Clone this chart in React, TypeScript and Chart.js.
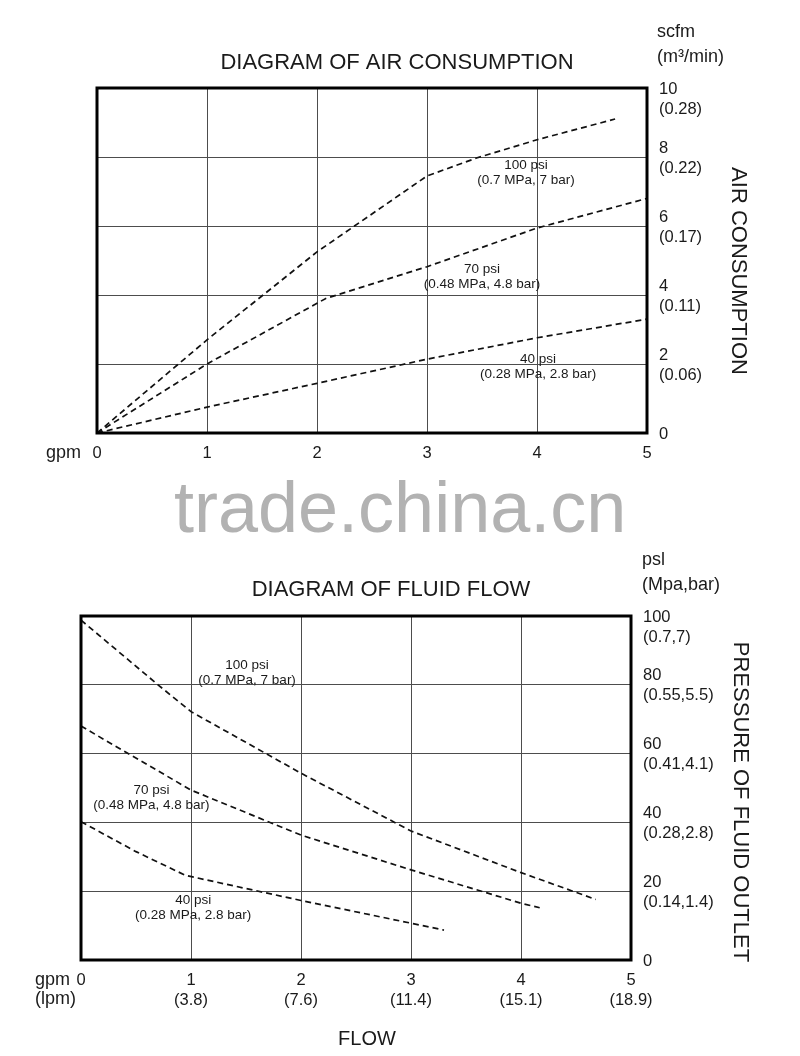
import React, { useEffect, useRef } from "react";
import { Chart, registerables } from "chart.js";

Chart.register(...registerables);

const REG = "'Liberation Sans', Arial, Helvetica, sans-serif";
const NARROW_FAMILY = "'Liberation Sans Narrow'";
const INK = "#1a1a1a";

function hasNarrow(): boolean {
  try {
    const c = document.createElement("canvas").getContext("2d");
    if (!c) return false;
    c.font = "40px monospace";
    const a = c.measureText("DIAGRAM abcdefghij 0123").width;
    c.font = `40px ${NARROW_FAMILY}, monospace`;
    const b = c.measureText("DIAGRAM abcdefghij 0123").width;
    return Math.abs(a - b) > 1;
  } catch {
    return false;
  }
}
const NARROW = hasNarrow();
const CF = NARROW ? `${NARROW_FAMILY}, ${REG}` : REG;
const CS = NARROW ? 1.2 : 1;

// ---------- Diagram of air consumption ----------
const airX100 = [0, 1, 2, 3, 3.45, 4, 4.71];
const airY100 = [0, 2.7, 5.25, 7.45, 7.97, 8.5, 9.1];
const airX70 = [0, 1, 2.08, 3, 4, 5];
const airY70 = [0, 2.0, 3.9, 4.82, 5.94, 6.8];
const airX40 = [0, 1, 2, 3, 4, 5];
const airY40 = [0, 0.75, 1.44, 2.14, 2.76, 3.3];
const airXTicks = ["0", "1", "2", "3", "4", "5"];
const airYScfm = ["0", "2", "4", "6", "8", "10"];
const airYM3 = ["", "(0.06)", "(0.11)", "(0.17)", "(0.22)", "(0.28)"];
const airCurveNames = [
  ["100 psi", "(0.7 MPa, 7 bar)"],
  ["70 psi", "(0.48 MPa, 4.8 bar)"],
  ["40 psi", "(0.28 MPa, 2.8 bar)"],
];
const airNameAtX = [3.9, 3.5, 4.01];
const airNameAtY = [7.55, 4.54, 1.91];
const airTitle = "DIAGRAM OF AIR CONSUMPTION";
const airUnits = ["scfm", "(m³/min)"];
const airAxisTitle = "AIR CONSUMPTION";

// ---------- Diagram of fluid flow ----------
const flowX100 = [0, 0.7, 1, 2, 3, 4, 4.68];
const flowY100 = [98.8, 80, 72.2, 54.3, 37.5, 25.4, 17.6];
const flowX70 = [0, 1, 2, 3, 4, 4.17];
const flowY70 = [68, 49.4, 36.3, 26.2, 16.5, 15.2];
const flowX40 = [0, 0.5, 0.95, 2, 3, 3.3];
const flowY40 = [40.2, 31.5, 24.6, 17.3, 10.7, 8.7];
const flowXGpm = ["0", "1", "2", "3", "4", "5"];
const flowXLpm = ["", "(3.8)", "(7.6)", "(11.4)", "(15.1)", "(18.9)"];
const flowYPsi = ["0", "20", "40", "60", "80", "100"];
const flowYMpaBar = ["", "(0.14,1.4)", "(0.28,2.8)", "(0.41,4.1)", "(0.55,5.5)", "(0.7,7)"];
const flowCurveNames = [
  ["100 psi", "(0.7 MPa, 7 bar)"],
  ["70 psi", "(0.48 MPa, 4.8 bar)"],
  ["40 psi", "(0.28 MPa, 2.8 bar)"],
];
const flowNameAtX = [1.51, 0.64, 1.02];
const flowNameAtY = [83.4, 47.1, 15.1];
const flowTitle = "DIAGRAM OF FLUID FLOW";
const flowUnits = ["psl", "(Mpa,bar)"];
const flowAxisTitle = "PRESSURE OF FLUID OUTLET";
const flowXTitle = "FLOW";

const watermark = "trade.china.cn";

type TextItem = {
  text: string;
  x: number;
  y: number;
  size: number;
  align: CanvasTextAlign;
  rotate?: boolean;
  regular?: boolean;
};

function toPoints(xs: number[], ys: number[]) {
  return xs.map((x, i) => ({ x, y: ys[i] }));
}

function curve(xs: number[], ys: number[]) {
  return {
    data: toPoints(xs, ys),
    borderColor: "#111",
    borderWidth: 1.7,
    borderDash: [6, 4],
    pointRadius: 0,
    fill: false,
    tension: 0,
  };
}

function yLabel(top: string[], bottom: string[], i: number) {
  if (!bottom[i]) return top[i];
  if (i === top.length - 1) return ["", top[i], bottom[i]];
  return [top[i], bottom[i]];
}

function makeDeco(texts: TextItem[], names: string[][], nx: number[], ny: number[]) {
  return {
    id: "deco",
    afterDraw(chart: any) {
      const { ctx, chartArea } = chart;
      const xs = chart.scales.x;
      const ys = chart.scales.y;
      ctx.save();
      ctx.strokeStyle = "#000";
      ctx.lineWidth = 3;
      ctx.strokeRect(
        chartArea.left,
        chartArea.top,
        chartArea.right - chartArea.left,
        chartArea.bottom - chartArea.top
      );
      ctx.fillStyle = INK;
      ctx.textBaseline = "middle";
      ctx.font = `${13.5 * CS}px ${CF}`;
      ctx.textAlign = "center";
      names.forEach((lines, i) => {
        const px = xs.getPixelForValue(nx[i]);
        const py = ys.getPixelForValue(ny[i]);
        ctx.fillText(lines[0], px, py - 7.5);
        ctx.fillText(lines[1], px, py + 7.5);
      });
      texts.forEach((t) => {
        ctx.font = t.regular ? `${t.size}px ${REG}` : `${t.size * CS}px ${CF}`;
        ctx.textAlign = t.align;
        if (t.rotate) {
          ctx.save();
          ctx.translate(t.x, t.y);
          ctx.rotate(Math.PI / 2);
          ctx.fillText(t.text, 0, 0);
          ctx.restore();
        } else {
          ctx.fillText(t.text, t.x, t.y);
        }
      });
      ctx.restore();
    },
  };
}

function buildConfig(opts: {
  datasets: any[];
  xLabels: (string | string[])[];
  yLabel: (i: number) => string | string[];
  yMax: number;
  yStep: number;
  padLeft: number;
  padTop: number;
  axisWidth: number;
  axisHeight: number;
  deco: any;
}) {
  const tickFont = { family: CF, size: 16.5 * CS, lineHeight: "20px" };
  return {
    type: "line",
    data: { datasets: opts.datasets },
    plugins: [opts.deco],
    options: {
      animation: false,
      responsive: false,
      maintainAspectRatio: false,
      events: [],
      layout: { padding: { left: opts.padLeft, top: opts.padTop, right: 0, bottom: 0 } },
      plugins: { legend: { display: false }, tooltip: { enabled: false }, title: { display: false } },
      scales: {
        x: {
          type: "linear",
          min: 0,
          max: 5,
          border: { display: false },
          grid: { color: "#4d4d4d", lineWidth: 1, drawTicks: false },
          ticks: {
            stepSize: 1,
            padding: 10,
            color: INK,
            font: tickFont,
            maxRotation: 0,
            autoSkip: false,
            callback: (_v: any, i: number) => opts.xLabels[i],
          },
          afterFit: (s: any) => {
            s.height = opts.axisHeight;
          },
        },
        y: {
          type: "linear",
          position: "right",
          min: 0,
          max: opts.yMax,
          border: { display: false },
          grid: { color: "#4d4d4d", lineWidth: 1, drawTicks: false },
          ticks: {
            stepSize: opts.yStep,
            padding: 12,
            labelOffset: 1,
            color: INK,
            font: tickFont,
            autoSkip: false,
            callback: (_v: any, i: number) => opts.yLabel(i),
          },
          afterFit: (s: any) => {
            s.width = opts.axisWidth;
          },
        },
      },
    },
  };
}

function ChartCanvas({ top, width, height, config }: { top: number; width: number; height: number; config: any }) {
  const ref = useRef<HTMLCanvasElement>(null);
  useEffect(() => {
    if (!ref.current) return;
    const chart = new Chart(ref.current, config);
    return () => chart.destroy();
  }, []);
  return (
    <canvas
      ref={ref}
      width={width}
      height={height}
      style={{ position: "absolute", left: 0, top, width, height }}
    />
  );
}

const airTop = 0;
const airH = 480;
const flowTop = 530;
const flowH = 526;

const airConfig = buildConfig({
  datasets: [curve(airX100, airY100), curve(airX70, airY70), curve(airX40, airY40)],
  xLabels: airXTicks,
  yLabel: (i) => yLabel(airYScfm, airYM3, i),
  yMax: 10,
  yStep: 2,
  padLeft: 97,
  padTop: 88,
  axisWidth: 800 - 647,
  axisHeight: airH - 433,
  deco: makeDeco(
    [
      { text: airTitle, x: 397, y: 63, size: 22, align: "center" },
      { text: airUnits[0], x: 657, y: 32, size: 18, align: "left" },
      { text: airUnits[1], x: 657, y: 57, size: 18, align: "left" },
      { text: airAxisTitle, x: 738, y: 271, size: 22, align: "center", rotate: true, regular: true },
      { text: "gpm", x: 46, y: 453, size: 18, align: "left" },
    ],
    airCurveNames,
    airNameAtX,
    airNameAtY
  ),
});

const flowConfig = buildConfig({
  datasets: [curve(flowX100, flowY100), curve(flowX70, flowY70), curve(flowX40, flowY40)],
  xLabels: flowXGpm.map((g, i) => (flowXLpm[i] ? [g, flowXLpm[i]] : g)),
  yLabel: (i) => yLabel(flowYPsi, flowYMpaBar, i),
  yMax: 100,
  yStep: 20,
  padLeft: 81,
  padTop: 616 - flowTop,
  axisWidth: 800 - 631,
  axisHeight: flowH - (960 - flowTop),
  deco: makeDeco(
    [
      { text: flowTitle, x: 391, y: 590 - flowTop, size: 22, align: "center" },
      { text: flowUnits[0], x: 642, y: 560 - flowTop, size: 18, align: "left" },
      { text: flowUnits[1], x: 642, y: 585 - flowTop, size: 18, align: "left" },
      { text: flowAxisTitle, x: 740, y: 802 - flowTop, size: 22, align: "center", rotate: true, regular: true },
      { text: "gpm", x: 35, y: 980 - flowTop, size: 18, align: "left" },
      { text: "(lpm)", x: 35, y: 999 - flowTop, size: 18, align: "left" },
      { text: flowXTitle, x: 367, y: 1039 - flowTop, size: 20, align: "center" },
    ],
    flowCurveNames,
    flowNameAtX,
    flowNameAtY
  ),
});

export default function App() {
  return (
    <div style={{ position: "absolute", left: 0, top: 0, width: 800, height: 1056, background: "#fff", overflow: "hidden" }}>
      <ChartCanvas top={airTop} width={800} height={airH} config={airConfig} />
      <ChartCanvas top={flowTop} width={800} height={flowH} config={flowConfig} />
      <div
        style={{
          position: "absolute",
          left: 174,
          top: 471,
          fontFamily: REG,
          fontSize: 72,
          lineHeight: "72px",
          color: "#b2b2b2",
          whiteSpace: "nowrap",
        }}
      >
        {watermark}
      </div>
    </div>
  );
}
